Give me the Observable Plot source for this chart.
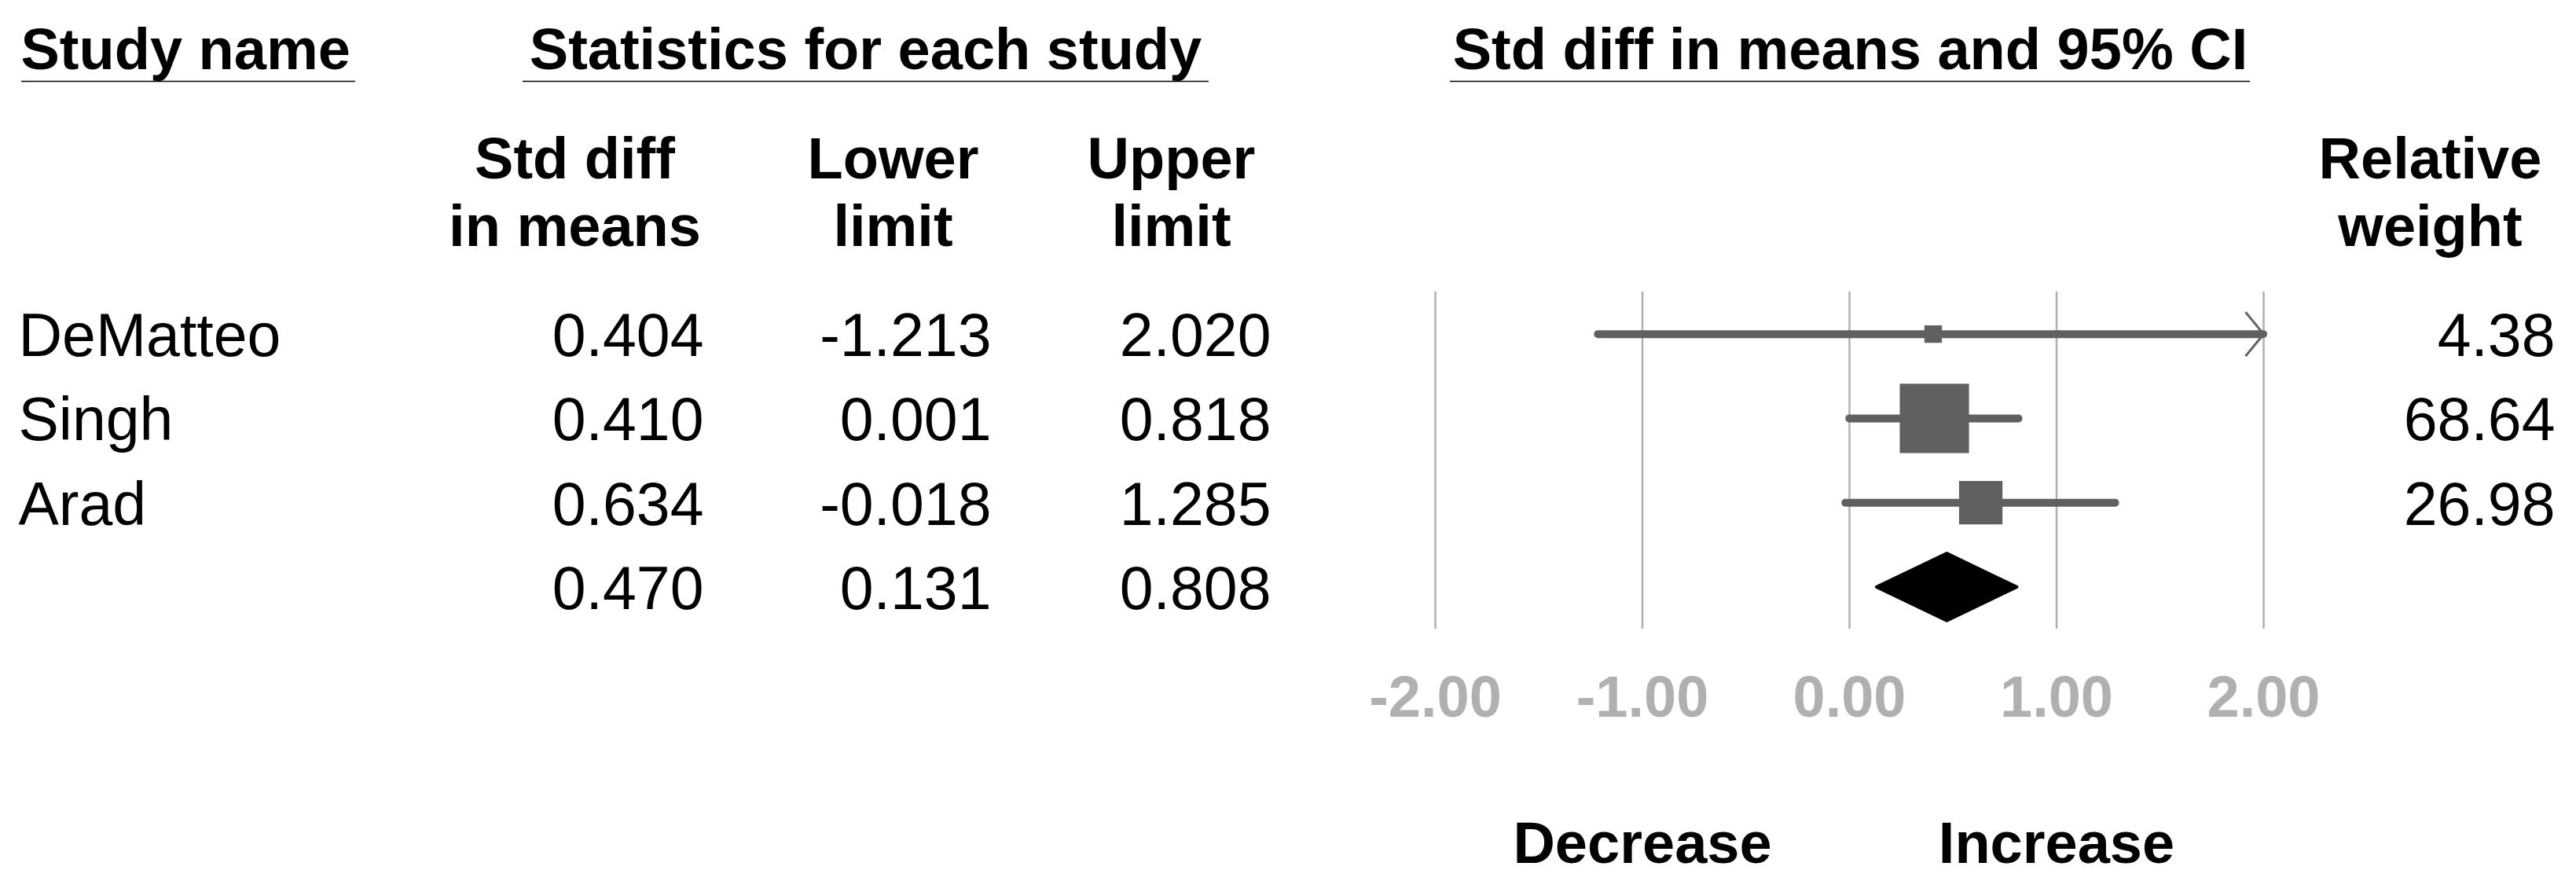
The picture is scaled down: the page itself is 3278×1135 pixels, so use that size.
<!DOCTYPE html>
<html>
<head>
<meta charset="utf-8">
<script src="https://cdn.jsdelivr.net/npm/d3@7"></script>
<script src="https://cdn.jsdelivr.net/npm/@observablehq/plot@0.6"></script>
<style>
  html, body { margin: 0; padding: 0; background: #fff; }
  #chart { width: 3278px; height: 1135px; }
  g[aria-label="x-axis tick label"] { font-weight: bold; }
</style>
</head>
<body>
<div id="chart"></div>
<script>
// ---------------- data ----------------
const studies     = ["DeMatteo", "Singh", "Arad"];
const stdDiff     = [0.404, 0.410, 0.634];
const lowerLimit  = [-1.213, 0.001, -0.018];
const upperLimit  = [2.020, 0.818, 1.285];
const relWeight   = [4.38, 68.64, 26.98];
const summaryEst   = 0.470;
const summaryLower = 0.131;
const summaryUpper = 0.808;
const xTicks = [-2, -1, 0, 1, 2];
const directionLabels = ["Decrease", "Increase"];
const directionAt = [-1, 1];
const groupHeaders = ["Study name", "Statistics for each study", "Std diff in means and 95% CI"];
const columnHeaders = ["Std diff\nin means", "Lower\nlimit", "Upper\nlimit"];
const weightHeader = "Relative\nweight";

// ---------------- layout ----------------
const W = 3278, H = 1135;
const mL = 1826, mR = 398, mT = 371, mB = 335;
const xMin = -2, xMax = 2;
const boldSize = 74, regSize = 77;
const gray = "#606060";
const rowBaseline = 28;          // baseline offset below row centre
const frameBottom = H - mB;
const frameRight = W - mR;

const rows = studies.map((name, i) => ({
  row: i, name, est: stdDiff[i], lower: lowerLimit[i], upper: upperLimit[i], weight: relWeight[i]
}));
const summary = {row: rows.length, est: summaryEst, lower: summaryLower, upper: summaryUpper};
const tableRows = [...rows, summary];

const diamondHalf = 0.4;
const diamond = [
  {x: summary.lower, y: summary.row},
  {x: summary.est, y: summary.row - diamondHalf},
  {x: summary.upper, y: summary.row},
  {x: summary.est, y: summary.row + diamondHalf},
  {x: summary.lower, y: summary.row}
];

const chevron = {
  draw(ctx) {
    ctx.moveTo(-23, -28);
    ctx.lineTo(0, 0);
    ctx.lineTo(-23, 28);
  }
};

// header layout (pixel anchors)
const groupLayout = [
  {x: 26, anchor: "start"},
  {x: 1101, anchor: "middle"},
  {x: 2354, anchor: "middle"}
];
const columnCenters = [731, 1136, 1490];
const weightCenter = 3092;
const underlines = [[27, 452], [665, 1538], [1845, 2863]];
const numberRight = {est: 895, lower: 1261, upper: 1617};
const nameLeft = 23;
const weightRight = 3251;

const marks = [];

// gridlines
marks.push(Plot.ruleX(xTicks, {stroke: "#b0b0b0", strokeWidth: 2.5}));

// CI lines
marks.push(Plot.ruleY(rows, {
  y: "row", x1: "lower", x2: d => Math.min(d.upper, xMax),
  stroke: gray, strokeWidth: 10, strokeLinecap: "round"
}));
// arrow for truncated CI
marks.push(Plot.dot(rows.filter(d => d.upper > xMax), {
  x: () => xMax, y: "row", symbol: chevron, fill: "none",
  stroke: gray, strokeWidth: 3
}));
// weighted squares
marks.push(Plot.dot(rows, {x: "est", y: "row", r: "weight", symbol: "square", fill: gray, stroke: null}));
// summary diamond
marks.push(Plot.line(diamond, {x: "x", y: "y", fill: "black", stroke: "black", strokeWidth: 4, strokeLinejoin: "round"}));

// x axis
marks.push(Plot.axisX({
  ticks: xTicks, tickFormat: d => d.toFixed(2), tickSize: 0, tickPadding: 59,
  fontSize: boldSize, fontWeight: "bold", color: "#b0b0b0", label: null
}));

// direction labels
marks.push(Plot.text(directionLabels, {
  x: (d, i) => directionAt[i], text: d => d, frameAnchor: "bottom",
  dy: 1097 - frameBottom, lineAnchor: "bottom", textAnchor: "middle",
  fontSize: boldSize, fontWeight: "bold", fill: "black"
}));

// group headers
groupHeaders.forEach((t, i) => {
  marks.push(Plot.text([t], {
    text: d => d, frameAnchor: "top-left", dx: groupLayout[i].x - mL, dy: 87 - mT,
    textAnchor: groupLayout[i].anchor, lineAnchor: "bottom",
    fontSize: boldSize, fontWeight: "bold", fill: "black"
  }));
});
// underlines
marks.push(() => {
  const g = d3.create("svg:g");
  for (const [a, b] of underlines) {
    g.append("line").attr("x1", a).attr("x2", b).attr("y1", 103.5).attr("y2", 103.5)
      .attr("stroke", "black").attr("stroke-width", 1.6);
  }
  return g.node();
});
// column headers
columnHeaders.forEach((t, i) => {
  marks.push(Plot.text([t], {
    text: d => d, frameAnchor: "top-left", dx: columnCenters[i] - mL, dy: 312 - mT,
    textAnchor: "middle", lineAnchor: "bottom", lineHeight: 86 / boldSize,
    fontSize: boldSize, fontWeight: "bold", fill: "black"
  }));
});
marks.push(Plot.text([weightHeader], {
  text: d => d, frameAnchor: "top-left", dx: weightCenter - mL, dy: 312 - mT,
  textAnchor: "middle", lineAnchor: "bottom", lineHeight: 86 / boldSize,
  fontSize: boldSize, fontWeight: "bold", fill: "black"
}));

// study names
marks.push(Plot.text(rows, {
  y: "row", text: "name", frameAnchor: "left", dx: nameLeft - mL, dy: rowBaseline,
  textAnchor: "start", lineAnchor: "bottom", fontSize: regSize, fill: "black"
}));
// numeric columns
for (const key of ["est", "lower", "upper"]) {
  marks.push(Plot.text(tableRows, {
    y: "row", text: d => d[key].toFixed(3), frameAnchor: "left", dx: numberRight[key] - mL, dy: rowBaseline,
    textAnchor: "end", lineAnchor: "bottom", fontSize: regSize, fill: "black"
  }));
}
// relative weights
marks.push(Plot.text(rows, {
  y: "row", text: d => d.weight.toFixed(2), frameAnchor: "right", dx: weightRight - frameRight, dy: rowBaseline,
  textAnchor: "end", lineAnchor: "bottom", fontSize: regSize, fill: "black"
}));

const chart = Plot.plot({
  width: W, height: H,
  marginLeft: mL, marginRight: mR, marginTop: mT, marginBottom: mB,
  style: {fontFamily: "'Liberation Sans', Arial, Helvetica, sans-serif", fontSize: regSize + "px", background: "white", overflow: "visible"},
  x: {domain: [xMin, xMax]},
  y: {domain: [-0.5, rows.length + 0.5], reverse: true, axis: null},
  r: {type: "sqrt", domain: [0, 100], range: [0, 60]},
  marks
});
document.getElementById("chart").appendChild(chart);
</script>
</body>
</html>
